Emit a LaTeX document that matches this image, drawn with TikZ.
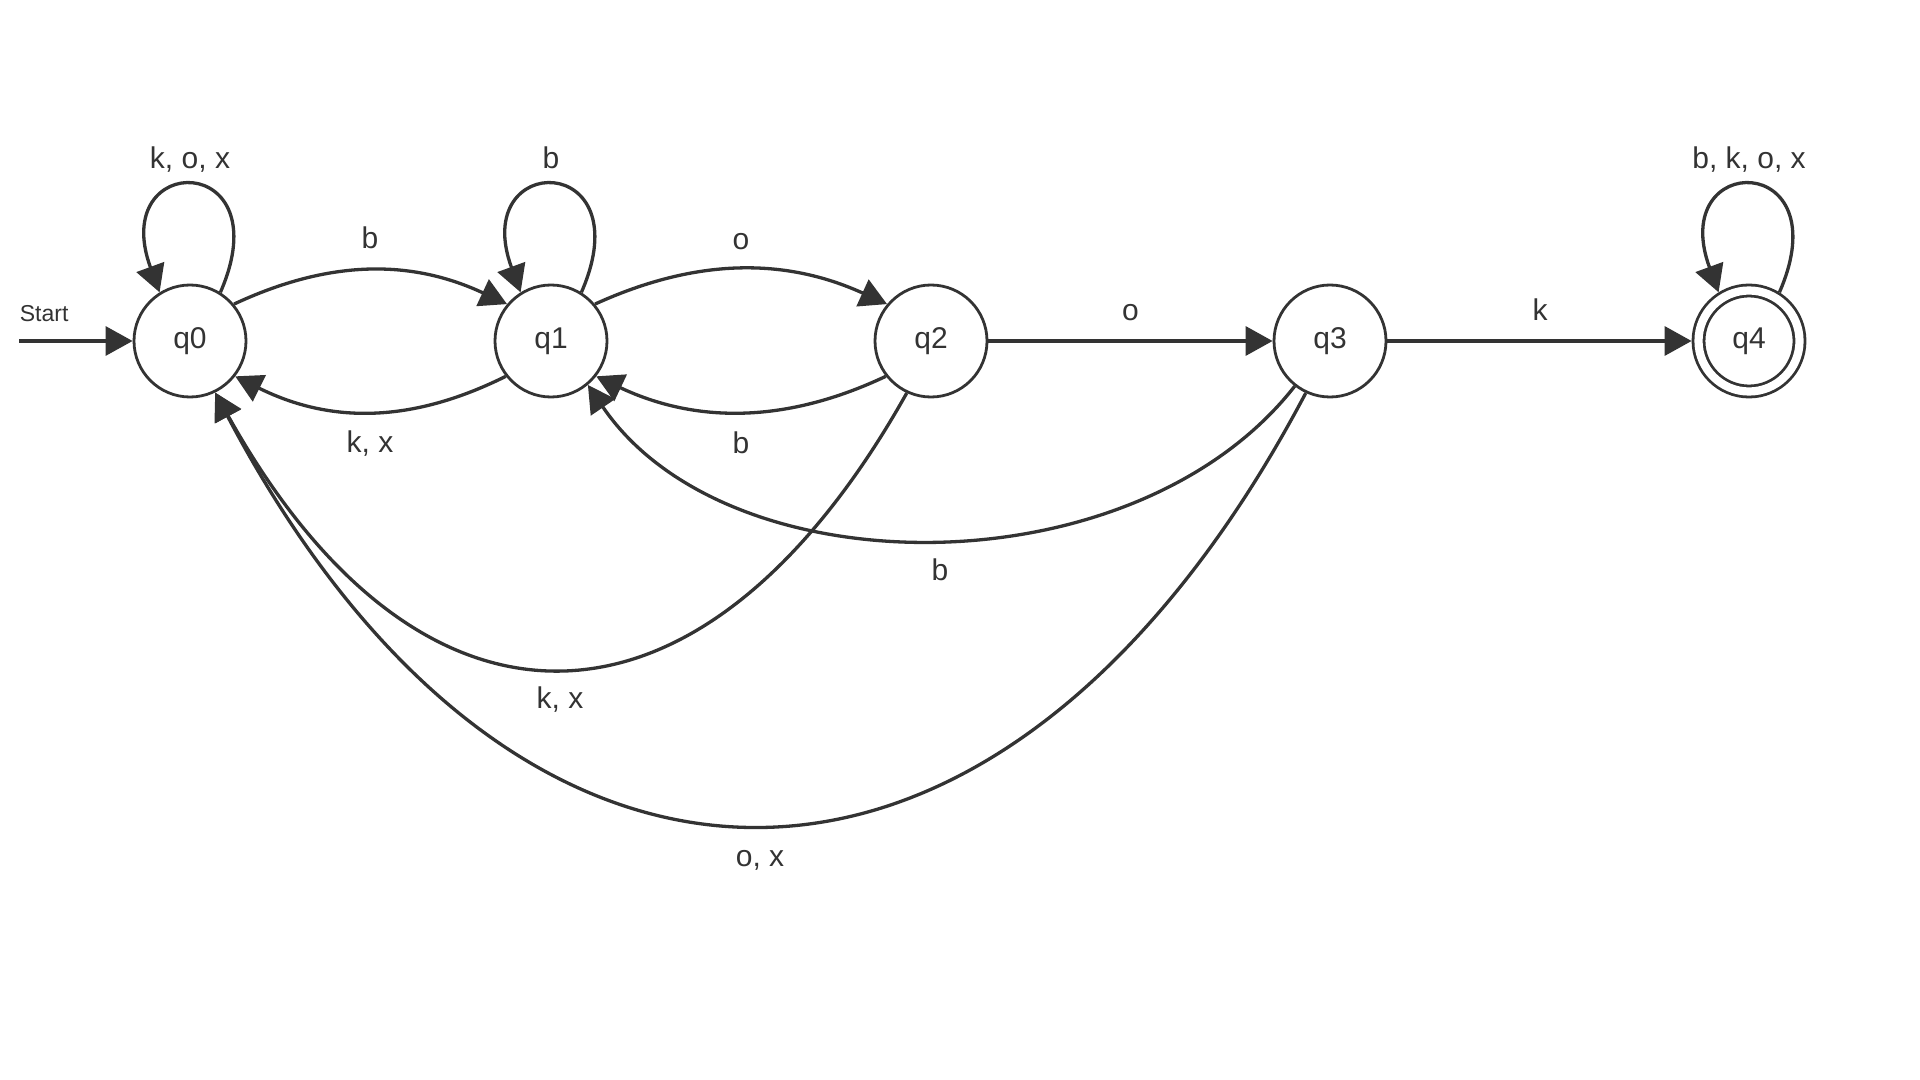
\documentclass[tikz,border=0pt]{standalone}
\usepackage{fontspec}
\setmainfont{Liberation Sans}
\usetikzlibrary{arrows.meta}
\definecolor{ink}{HTML}{333333}
\begin{document}
\begin{tikzpicture}[x=0.5pt,y=-0.5pt,
  state/.style={circle, draw=ink, line width=1.4pt, minimum size=56pt, inner sep=0pt,
    font=\fontsize{15}{18}\selectfont, text=ink},
  accept/.style={state, double, double distance=4.1pt, minimum size=50.5pt, outer sep=3.45pt},
  edge/.style={draw=ink, line width=1.65pt, -{Triangle[length=13.5pt,width=14.5pt]}},
  lbl/.style={anchor=base, font=\fontsize{15}{18}\selectfont, text=ink, inner sep=0pt},
  startlbl/.style={anchor=base west, font=\fontsize{11.5}{13}\selectfont, text=ink, inner sep=0pt}]
\useasboundingbox (0,0) rectangle (1920,1080);

% states
\node[state]  (q0) at (190,341)  {q0};
\node[state]  (q1) at (551,341)  {q1};
\node[state]  (q2) at (931,341)  {q2};
\node[state]  (q3) at (1330,341) {q3};
\node[accept] (q4) at (1749,341) {q4};

% start arrow
\coordinate (s0) at (19,341);
\node[startlbl] (st) at (19.5,321.7) {Start};
\draw[edge] (s0) -- (q0);

% self loops
\draw[edge] (q0.58) .. controls +(62,-142) and +(-52,-142) .. (q0.122);
\draw[edge] (q1.58) .. controls +(62,-142) and +(-52,-142) .. (q1.122);
\draw[edge] (q4.58) .. controls +(62,-142) and +(-52,-142) .. (q4.122);

% short arcs
\draw[edge] (q0.40) .. controls +(96,-44.8) and +(-96,-44.8) .. (q1.140);
\draw[edge] (q1.218) .. controls +(-95,47.2) and +(95,47.2) .. (q0.322);
\draw[edge] (q1.40) .. controls +(102,-46.4) and +(-102,-46.4) .. (q2.140);
\draw[edge] (q2.218) .. controls +(-100,47.2) and +(100,47.2) .. (q1.322);

% straight
\draw[edge] (q2) -- (q3);
\draw[edge] (q3) -- (q4);

% long arcs
\draw[edge] (q3.232) .. controls +(-160,204.8) and +(140,206) .. (q1.310);
\draw[edge] (q2.245) .. controls +(-205.7,367) and +(204.8,367.4) .. (q0.296);
\draw[edge] (q3.245) .. controls +(-303.7,575.5) and +(302.8,575.9) .. (q0.296);

% labels
\node[lbl] (l00) at (190,169)  {k, o, x};
\node[lbl] (l11) at (551,169)  {b};
\node[lbl] (l44) at (1749,169) {b, k, o, x};
\node[lbl] (l01) at (370,249)  {b};
\node[lbl] (l10) at (370,452)  {k, x};
\node[lbl] (l12) at (741,250)  {o};
\node[lbl] (l21) at (741,453)  {b};
\node[lbl] (l23) at (1130.5,321) {o};
\node[lbl] (l34) at (1540,321) {k};
\node[lbl] (l31) at (940,580)  {b};
\node[lbl] (l20) at (560,708)  {k, x};
\node[lbl] (l30) at (760,866)  {o, x};
\end{tikzpicture}
\end{document}
